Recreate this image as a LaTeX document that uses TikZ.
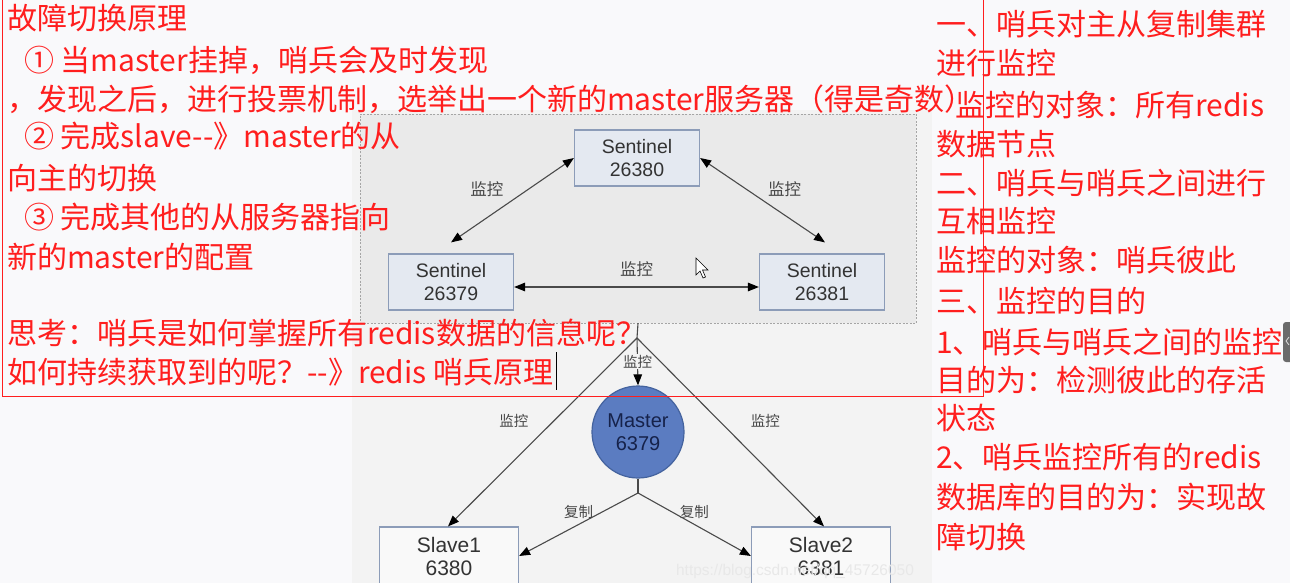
\documentclass[tikz,border=0pt]{standalone}
\usepackage{fontspec}
\setmainfont{Liberation Sans}
\newfontfamily\cjk{Noto Sans CJK SC}
\usetikzlibrary{arrows.meta,positioning}
\definecolor{notered}{HTML}{FF1E1E}
\definecolor{pagebg}{HTML}{F9F9FB}
\definecolor{shotbg}{HTML}{F3F3F3}
\definecolor{panelbg}{HTML}{EAEAEA}
\definecolor{panelline}{HTML}{A5A5A5}
\definecolor{boxline}{HTML}{8C9CB8}
\definecolor{sentfill}{HTML}{E4E9F1}
\definecolor{masterblue}{HTML}{5B7CC1}
\definecolor{masterline}{HTML}{44639E}
\definecolor{masterink}{HTML}{16224A}
\definecolor{linkgray}{HTML}{4A4A4A}

\begin{document}
\begin{tikzpicture}[
  x=1pt, y=-1pt,
  note/.style={text=notered, inner sep=0pt, anchor=base west,
               font=\cjk\fontsize{30}{39}\selectfont},
  sent/.style={draw=boxline, fill=sentfill, line width=1.2pt,
               minimum width=125pt, minimum height=56pt, align=center,
               font=\fontsize{19.5}{23}\selectfont, text=black!80},
  slave/.style={sent, fill=shotbg!50!white, minimum width=139pt,
                minimum height=58pt, font=\fontsize{21}{23}\selectfont},
  lbl/.style={font=\cjk\fontsize{16.5}{17}\selectfont, text=black!72, inner sep=1pt},
  slbl/.style={lbl, font=\cjk\fontsize{14.5}{15}\selectfont},
  link/.style={draw=linkgray, line width=1.1pt},
  arr/.style={link, -{Triangle[length=11pt,width=8.5pt,color=black]}},
  dblarr/.style={link, {Triangle[length=11pt,width=8.5pt,color=black]}-{Triangle[length=11pt,width=8.5pt,color=black]}}
]
\useasboundingbox (0,0) rectangle (1290,583);
\fill[pagebg] (0,0) rectangle (1290,583);

%% screenshot of the sentinel diagram
\fill[shotbg] (352,110) rectangle (932,583);
\node[draw=panelline, fill=panelbg, dash pattern=on 2pt off 1.5pt,
      minimum width=556pt, minimum height=209pt] (panel) at (638,218.5) {};

%% Row 1: sentinels
\node[sent] (s80) at (637,158) {Sentinel\\26380};
\node[sent] (s79) at (451,282) {Sentinel\\26379};
\node[sent] (s81) at (822,282) {Sentinel\\26381};

%% Row 2: master and slaves
\node[circle, fill=masterblue, draw=masterline, line width=1.2pt,
      minimum size=92pt, inner sep=0pt, align=center, text=masterink,
      font=\fontsize{20}{23}\selectfont] (master) at (638,432) {Master\\6379};
\node[slave] (sl1) at (449,556) {Slave1\\6380};
\node[slave] (sl2) at (821,556) {Slave2\\6381};

\coordinate (fork) at (637,338);
\coordinate (split) at (638,493);

%% sentinels watch each other
\draw[dblarr] ([yshift=11pt]s79.north) -- (s80.west)
  node[lbl, pos=.635, left=24pt]{监控};
\draw[dblarr] (s80.east) -- ([xshift=3pt,yshift=11pt]s81.north)
  node[lbl, pos=.365, right=21pt]{监控};
\draw[dblarr] ([yshift=-5pt]s79.east) -- ([yshift=-5pt]s81.west)
  node[lbl, midway, above=9pt]{监控};

%% sentinels watch the data nodes
\draw[link] (panel.south) -- (fork);
\draw[arr] (fork) -- (master.north) node[slbl, midway, fill=shotbg]{监控};
\draw[arr] (fork) -- ([xshift=-1pt]sl1.north) node[slbl, pos=.44, left=24pt]{监控};
\draw[arr] (fork) -- ([xshift=3pt]sl2.north) node[slbl, pos=.44, right=30pt]{监控};

%% replication
\draw[link] (master.south) -- (split);
\draw[arr] (split) -- (sl1.east) node[slbl, midway, above=4pt]{复制};
\draw[arr] (split) -- (sl2.west) node[slbl, midway, above=4pt]{复制};

\node[font=\fontsize{15.5}{16}\selectfont, text=white!82!gray, inner sep=0pt]
  (mark) at (795,571) {https://blog.csdn.net/qq\_45726050};

%% mouse pointer
\filldraw[fill=white, draw=black, line width=.6pt]
  (696,258) -- (696,275) -- (700,271) -- (703,278) -- (705.5,277)
  -- (702.5,270) -- (708,270) -- cycle;

%% notes on the left
\foreach \y/\t [count=\i] in {
  19/{故障切换原理},
  61/{\hspace{17pt}① 当master挂掉，哨兵会及时发现},
  100/{，发现之后，进行投票机制，选举出一个新的master服务器（得是奇数）},
  137/{\hspace{17pt}② 完成slave-{}-》master的从},
  178/{向主的切换},
  217/{\hspace{17pt}③ 完成其他的从服务器指向},
  257/{新的master的配置},
  333/{思考：哨兵是如何掌握所有redis数据的信息呢？},
  372/{如何持续获取到的呢？-{}-》redis 哨兵原理}}
  \node[note] (left\i) at (7,\y+11) {\t};

%% notes on the right
\foreach \y/\t [count=\i] in {
  25/{一、哨兵对主从复制集群},
  64/{进行监控},
  106/{\hspace{19pt}监控的对象：所有redis},
  145/{数据节点},
  183/{二、哨兵与哨兵之间进行},
  221/{互相监控},
  260/{监控的对象：哨兵彼此},
  301/{三、监控的目的},
  342/{1、哨兵与哨兵之间的监控},
  380/{目的为：检测彼此的存活},
  418/{状态},
  457/{2、哨兵监控所有的redis},
  497/{数据库的目的为：实现故},
  537/{障切换}}
  \node[note] (right\i) at (936,\y+11) {\t};

%% frame of the left note and text cursor
\draw[notered, line width=1pt] (2,-2) -- (2,396) -- (983,396) -- (983,-2);
\draw[black, line width=.8pt] (556,352) -- (556,390);

%% side tab
\fill[black!58, rounded corners=3pt] (1283,322) rectangle (1296,362);
\draw[white!75!gray, line width=.8pt] (1289,337) -- (1286,341) -- (1289,345);
\end{tikzpicture}
\end{document}
